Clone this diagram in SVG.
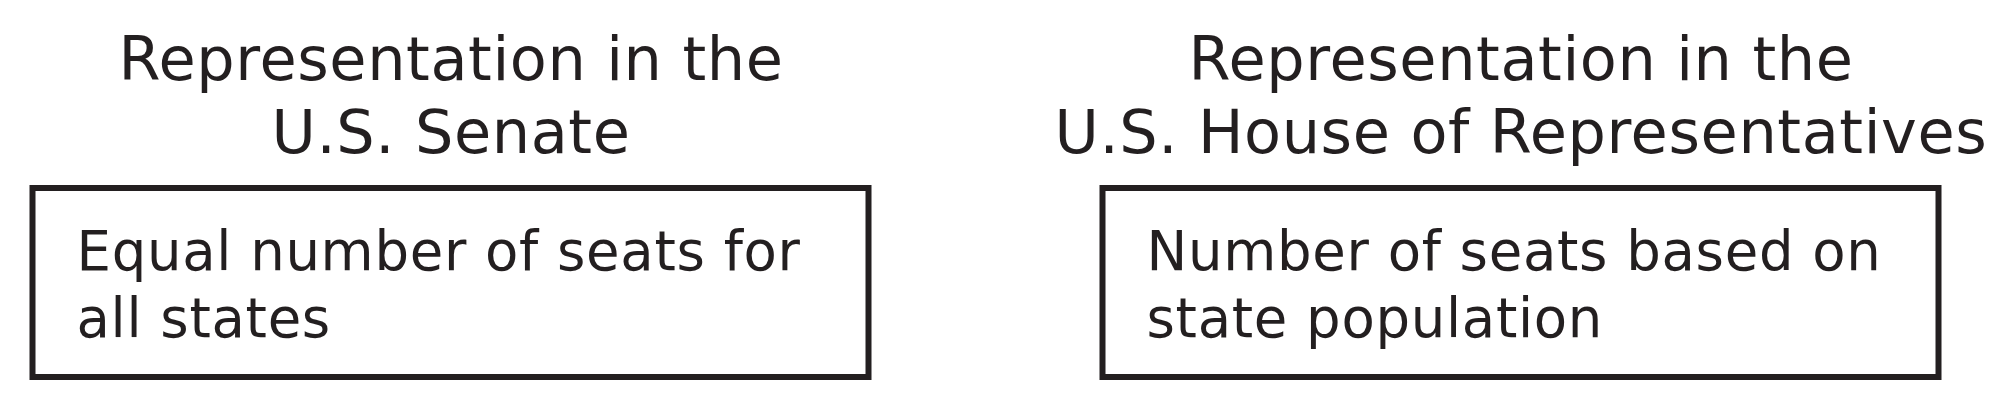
<svg xmlns="http://www.w3.org/2000/svg" width="2012" height="400" viewBox="0 0 2012 400">
<style>
.t{font-family:"DejaVu Sans","Verdana",sans-serif;font-size:60.5px;letter-spacing:0.6px;fill:#231f20;text-anchor:middle}
.b{font-family:"DejaVu Sans","Verdana",sans-serif;font-size:54.5px;letter-spacing:0.7px;fill:#231f20}
.box{fill:#fff;stroke:#231f20;stroke-width:6}
</style>
<rect width="2012" height="400" fill="#fff"/>
<g id="senate">
<text class="t" x="451" y="80">Representation in the</text>
<text class="t" x="451" y="153">U.S. Senate</text>
<rect class="box" x="32.5" y="188" width="836" height="189"/>
<text class="b" x="76.5" y="270">Equal number of seats for</text>
<text class="b" x="76.5" y="337">all states</text>
</g>
<g id="house">
<text class="t" x="1521" y="80">Representation in the</text>
<text class="t" x="1521" y="153">U.S. House of Representatives</text>
<rect class="box" x="1102.5" y="188" width="836" height="189"/>
<text class="b" x="1146.5" y="270">Number of seats based on</text>
<text class="b" x="1146.5" y="337">state population</text>
</g>
<g id="connectors"></g>
</svg>
